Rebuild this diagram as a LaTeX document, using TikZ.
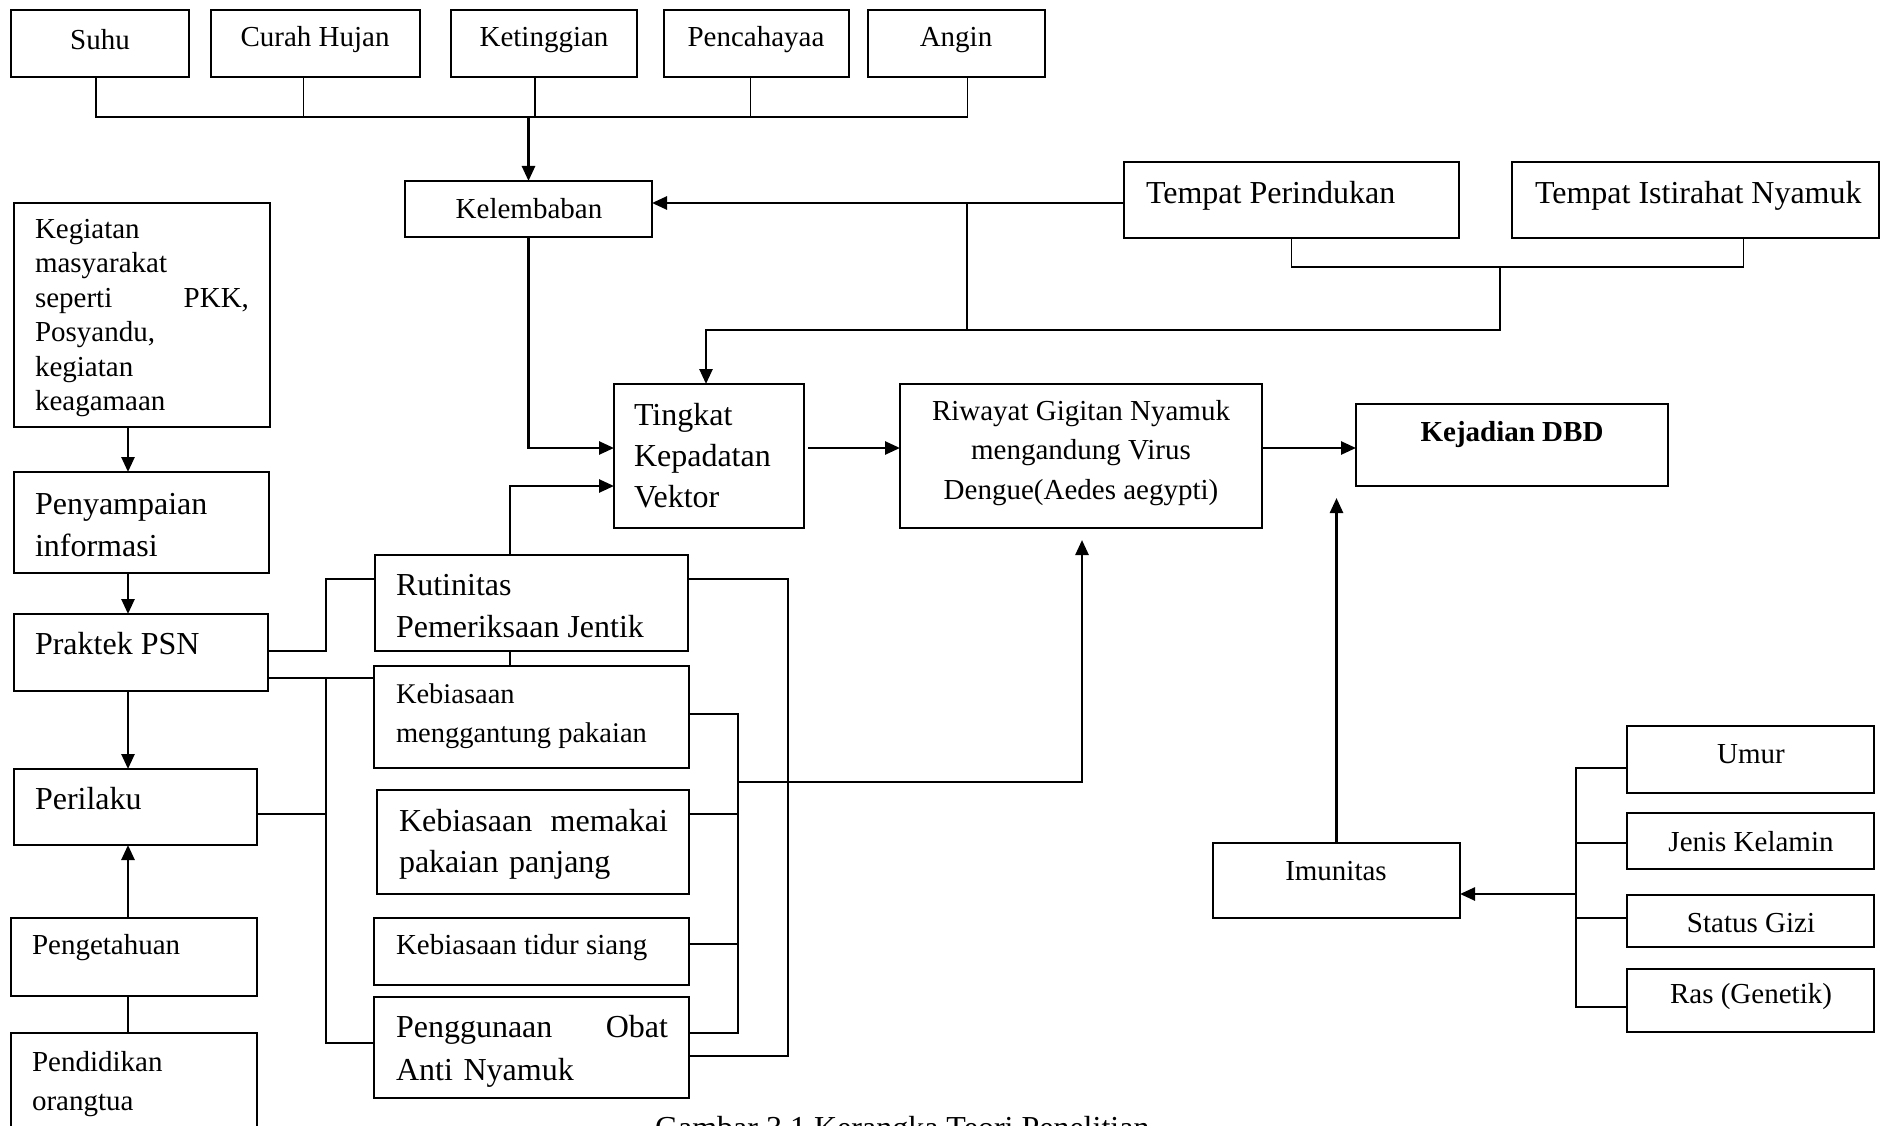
\documentclass[tikz,border=0pt]{standalone}
\usepackage{fontspec}
\setmainfont{Liberation Serif}
\usetikzlibrary{arrows.meta,fit,calc}
\newcommand\bxat[3]{\node[bx, fit={#2 #3}] (#1) {};}
\begin{document}
\begin{tikzpicture}[x=1pt,y=-1pt,
  bx/.style={draw, line width=2.2pt, rectangle, inner sep=0pt, outer sep=0pt},
  tx/.style={inner sep=0pt, outer sep=0pt},
  ln/.style={line width=1.8pt},
  ar/.style={line width=2.6pt, -{Triangle[length=15pt,width=13pt]}},
  fa/.style={font=\fontsize{29}{34}\selectfont},
  fb/.style={font=\fontsize{32}{42}\selectfont},
]
\useasboundingbox (0,0) rectangle (1881,1126);
\fill[white] (0,0) rectangle (1881,1126);

% ---- boxes ----
\bxat{suhu}{(11,10)}{(189,77)}
\bxat{curah}{(211,10)}{(420,77)}
\bxat{keting}{(451,10)}{(637,77)}
\bxat{penc}{(664,10)}{(849,77)}
\bxat{angin}{(868,10)}{(1045,77)}
\bxat{kel}{(405,181)}{(652,237)}
\bxat{tp}{(1124,162)}{(1459,238)}
\bxat{ti}{(1512,162)}{(1879,238)}
\bxat{ting}{(614,384)}{(804,528)}
\bxat{riw}{(900,384)}{(1262,528)}
\bxat{kej}{(1356,404)}{(1668,486)}
\bxat{keg}{(14,203)}{(270,427)}
\bxat{pen}{(14,472)}{(269,573)}
\bxat{prak}{(14,614)}{(268,691)}
\bxat{per}{(14,769)}{(257,845)}
\bxat{peng}{(11,918)}{(257,996)}
\bxat{pend}{(11,1033)}{(257,1145)}
\bxat{rut}{(375,555)}{(688,651)}
\bxat{kmg}{(374,666)}{(689,768)}
\bxat{kmp}{(377,790)}{(689,894)}
\bxat{kts}{(374,918)}{(689,985)}
\bxat{pgo}{(374,997)}{(689,1098)}
\bxat{imu}{(1213,843)}{(1460,918)}
\bxat{umur}{(1627,726)}{(1874,793)}
\bxat{jk}{(1627,813)}{(1874,869)}
\bxat{sg}{(1627,895)}{(1874,947)}
\bxat{ras}{(1627,969)}{(1874,1032)}

% ---- texts ----
\node[tx,fa] (suhu-t) at (100,40) {Suhu};
\node[tx,fa] (curah-t) at (315,40) {Curah Hujan};
\node[tx,fa] (keting-t) at (544,40) {Ketinggian};
\node[tx,fa] (penc-t) at (756,40) {Pencahayaa};
\node[tx,fa] (angin-t) at (956,40) {Angin};
\node[tx,fa] (kel-t) at (529,209) {Kelembaban};
\node[tx,fb,anchor=west] (tp-t) at (1146,196) {Tempat Perindukan};
\node[tx,fb,anchor=west] (ti-t) at (1535,196) {Tempat Istirahat Nyamuk};
\node[tx,font=\fontsize{32}{41}\selectfont,anchor=west,align=left] (ting-t) at (634,456) {Tingkat\\Kepadatan\\Vektor};
\node[tx,font=\fontsize{29}{39.5}\selectfont,align=center] (riw-t) at (1081,453) {Riwayat Gigitan Nyamuk\\mengandung Virus\\Dengue(Aedes aegypti)};
\node[tx,font=\fontsize{29}{34}\selectfont\bfseries] (kej-t) at (1512,435) {Kejadian DBD};
\node[tx,font=\fontsize{29}{34.4}\selectfont,anchor=west,align=left,text width=214pt] (keg-t) at (35,318) {Kegiatan\\masyarakat\\seperti\hfill PKK,\\Posyandu,\\kegiatan\\keagamaan};
\node[tx,fb,anchor=west,align=left] (pen-t) at (35,525) {Penyampaian\\informasi};
\node[tx,fb,anchor=west] (prak-t) at (35,644) {Praktek PSN};
\node[tx,fb,anchor=west] (per-t) at (35,799) {Perilaku};
\node[tx,fa,anchor=west] (peng-t) at (32,948) {Pengetahuan};
\node[tx,font=\fontsize{29}{39}\selectfont,anchor=west,align=left] (pend-t) at (32,1084) {Pendidikan\\orangtua};
\node[tx,font=\fontsize{32}{42}\selectfont,anchor=west,align=left] (rut-t) at (396,606) {Rutinitas\\Pemeriksaan Jentik};
\node[tx,font=\fontsize{28.5}{39}\selectfont,anchor=west,align=left] (kmg-t) at (396,716) {Kebiasaan\\menggantung pakaian};
\node[tx,font=\fontsize{32}{41}\selectfont,anchor=west,align=left,text width=269pt] (kmp-t) at (399,844) {Kebiasaan\hfill memakai\\pakaian panjang};
\node[tx,fa,anchor=west] (kts-t) at (396,948) {Kebiasaan tidur siang};
\node[tx,font=\fontsize{32}{43}\selectfont,anchor=west,align=left,text width=272pt] (pgo-t) at (396,1051) {Penggunaan\hfill Obat\\Anti Nyamuk};
\node[tx,fa] (imu-t) at (1336,871) {Imunitas};
\node[tx,fa] (umur-t) at (1751,754) {Umur};
\node[tx,fa] (jk-t) at (1751,842) {Jenis Kelamin};
\node[tx,fa] (sg-t) at (1751,923) {Status Gizi};
\node[tx,fa] (ras-t) at (1751,997) {Ras (Genetik)};
\node[tx,font=\fontsize{32}{38}\selectfont,anchor=base west] (cap) at (655,1138) {Gambar 3.1 Kerangka Teori Penelitian};

% ---- connectors: top ----
\draw[ln] ($(suhu.south)+(-4,0)$) |- ($(angin.south)+(11,40)$) -- ($(angin.south)+(11,0)$);
\draw[ln] ($(curah.south)+(-12,0)$) -- ++(0,40);
\draw[ln] ($(keting.south)+(-9,0)$) -- ++(0,40);
\draw[ln] ($(penc.south)+(-6,0)$) -- ++(0,40);
\draw[ar] ($(kel.north)+(0,-64)$) -- (kel.north);

% Tempat -> Kelembaban / Tingkat
\draw[ar] ($(tp.west)+(0,3)$) -- ($(kel.east)+(0,-6)$);
\draw[ln] ($(tp.west)+(-157,3)$) -- ++(0,127);
\draw[ln] (tp.south) |- ($(ti.south)+(48,29)$) -- ($(ti.south)+(48,0)$);
\draw[ar] ($(tp.south)+(208.5,29)$) |- ($(ting.north)+(-3,-54)$) -- ($(ting.north)+(-3,0)$);

% into Tingkat
\draw[ar] (kel.south) |- ($(ting.west)+(0,-8)$);
\draw[ar] ($(rut.north)+(-21.5,0)$) |- ($(ting.west)+(0,30)$);
\draw[ln] ($(rut.south)+(-21.5,0)$) -- ($(kmg.north)+(-21.5,0)$);

% main chain
\draw[ar] ($(ting.east)+(4,-8)$) -- ($(riw.west)+(0,-8)$);
\draw[ar] ($(riw.east)+(0,-8)$) -- ($(kej.west)+(0,3)$);

% left column
\draw[ar] ($(keg.south)+(-14,0)$) -- ($(pen.north)+(-13.5,0)$);
\draw[ar] ($(pen.south)+(-13.5,0)$) -- ($(prak.north)+(-13,0)$);
\draw[ar] ($(prak.south)+(-13,0)$) -- ($(per.north)+(-7.5,0)$);
\draw[ar] ($(peng.north)+(-6,0)$) -- ($(per.south)+(-7.5,0)$);
\draw[ln] ($(peng.south)+(-6,0)$) -- ($(pend.north)+(-6,0)$);

% Praktek / Perilaku to middle boxes
\draw[ln] ($(prak.east)+(0,-1.5)$) -| ($(rut.west)+(-49,-24)$) -- ($(rut.west)+(0,-24)$);
\draw[ln] ($(prak.east)+(0,25.5)$) -- ($(kmg.west)+(0,-39)$);
\draw[ln] ($(kmg.west)+(-48,-39)$) |- ($(pgo.west)+(0,-4.5)$);
\draw[ln] ($(per.east)+(0,7)$) -- ($(kmg.west)+(-48,97)$);

% inner bracket
\draw[ln] ($(kmg.east)+(0,-3)$) -| ($(pgo.east)+(49,-14.5)$) -- ($(pgo.east)+(0,-14.5)$);
\draw[ln] ($(kmp.east)+(0,-28)$) -- ++(49,0);
\draw[ln] ($(kts.east)+(0,-7.5)$) -- ++(49,0);
\draw[ar] ($(kmg.east)+(49,65)$) -| ($(riw.south)+(1,12)$);

% outer bracket
\draw[ln] ($(rut.east)+(0,-24)$) -| ($(pgo.east)+(99,8.5)$) -- ($(pgo.east)+(0,8.5)$);

% right side
\draw[ar] (imu.north) -- ($(kej.south)+(-175.5,12)$);
\draw[ln] ($(umur.west)+(0,8.5)$) -| ($(ras.west)+(-51,6.5)$) -- ($(ras.west)+(0,6.5)$);
\draw[ln] ($(jk.west)+(0,2)$) -- ++(-51,0);
\draw[ln] ($(sg.west)+(0,-3)$) -- ++(-51,0);
\draw[ar] ($(sg.west)+(-51,-27)$) -- ($(imu.east)+(0,13.5)$);
\end{tikzpicture}
\end{document}
